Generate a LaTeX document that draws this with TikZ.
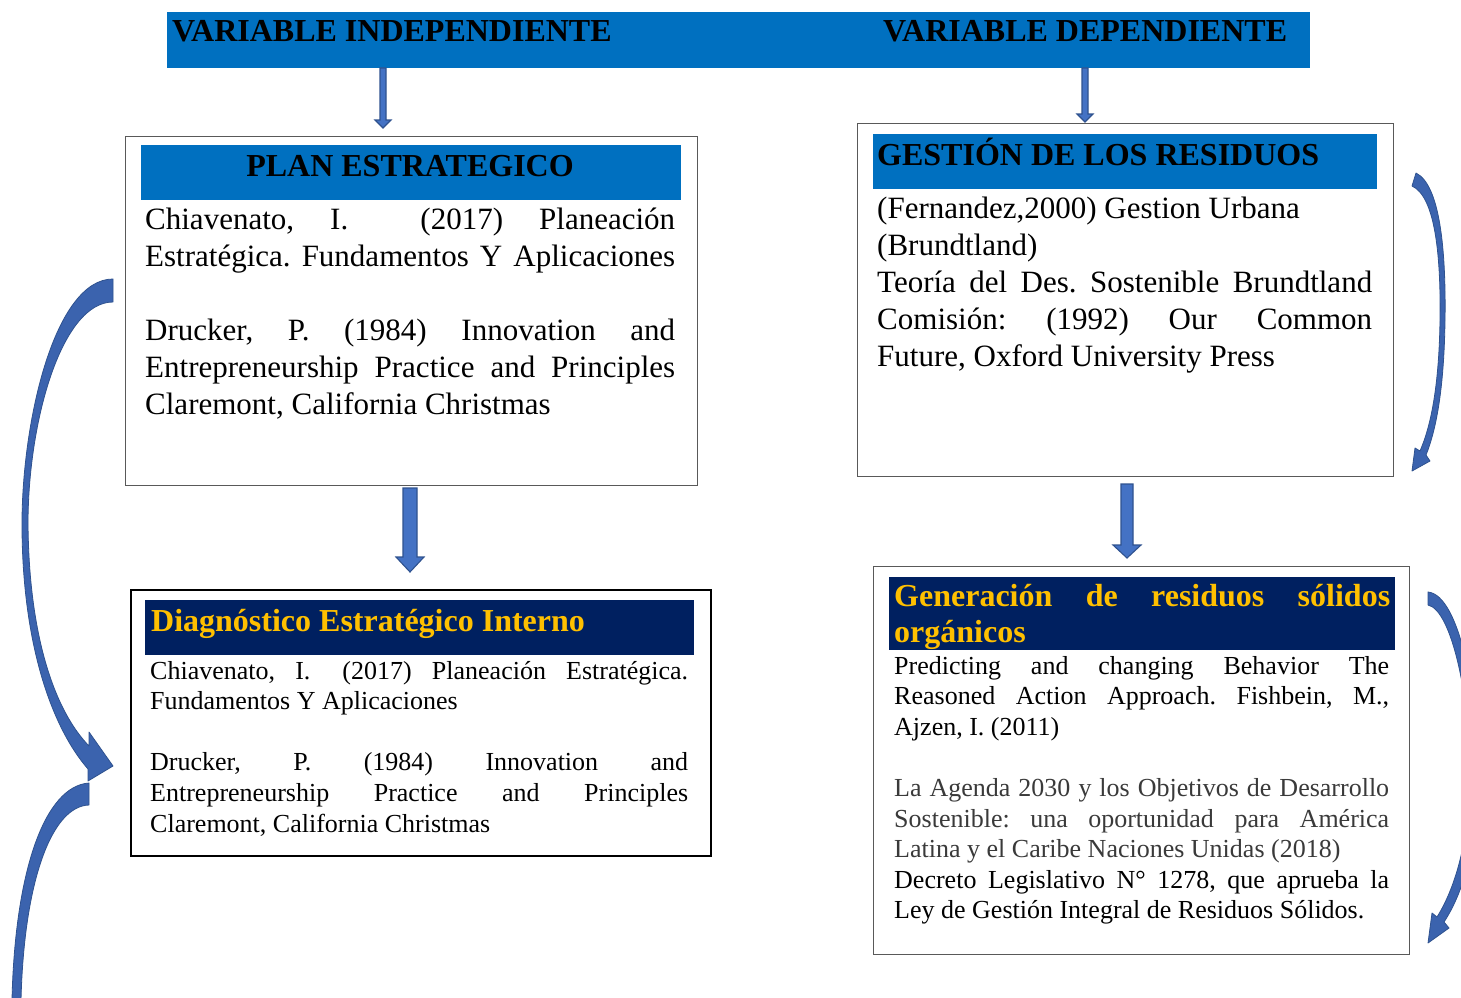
\documentclass[tikz,border=0pt]{standalone}
\usepackage{fontspec}
\setmainfont{Liberation Serif}
\usetikzlibrary{calc}

\definecolor{barblue}{HTML}{0070C0}
\definecolor{navy}{HTML}{002060}
\definecolor{gold}{HTML}{FFC000}
\definecolor{arrowfill}{HTML}{4472C4}
\definecolor{arrowline}{HTML}{2F528F}
\definecolor{curvefill}{HTML}{3B63AE}
\definecolor{softblack}{HTML}{3A3A3A}
\definecolor{framegray}{HTML}{595959}

\hbadness=10000
\hfuzz=20pt
\frenchspacing

% one justified line / one natural-width line of a reference list
\newcommand\jline[1]{\hbox to\hsize{#1}}
\newcommand\pline[1]{\hbox{#1}}
\newcommand\blankline{\hbox{}}
% stack of lines whose baseline is the first line
\newcommand\textblock[2]{\vtop{\hsize=#1pt\relax #2}}

\newcommand\bodyL{\fontsize{31}{37}\selectfont}
\newcommand\bodyS{\fontsize{26}{30.6}\selectfont}
\newcommand\headfont{\fontsize{32}{36}\selectfont\bfseries}

% vertical block arrow from #1 down to the tip #2
% #3 half shaft width, #4 half head width, #5 head length
\newcommand\blockdown[5]{%
  \filldraw[fill=arrowfill, draw=arrowline, line width=1.1pt, line join=miter]
    let \p1=(#1), \p2=(#2) in
    (\x1-#3pt,\y1) -- (\x1+#3pt,\y1) -- (\x1+#3pt,\y2+#5pt) -- (\x1+#4pt,\y2+#5pt)
    -- (\x1,\y2) -- (\x1-#4pt,\y2+#5pt) -- (\x1-#3pt,\y2+#5pt) -- cycle;}

\tikzset{
  framebox/.style={draw=#1, fill=white, anchor=north west, inner sep=0pt},
  headbar/.style={fill=#1, anchor=north west, inner sep=0pt, draw=none},
  label/.style={anchor=base west, inner sep=0pt},
  curved/.style={fill=curvefill, draw=arrowline, line width=0.8pt, line join=round},
}

\begin{document}
\begin{tikzpicture}[x=1pt, y=-1pt]
\clip (0,0) rectangle (1461,998);
\fill[white] (0,0) rectangle (1461,998);

% variable banner
\node[headbar=barblue, minimum width=1143pt, minimum height=56pt] (bar) at (167,12) {};
\node[label, font=\headfont] (vi) at (172,42) {VARIABLE INDEPENDIENTE};
\node[label, font=\headfont] (vd) at (883,42) {VARIABLE DEPENDIENTE};

% plan estrategico
\node[framebox=framegray, line width=1.2pt, minimum width=572pt, minimum height=349pt] (box1) at (125,136) {};
\node[headbar=barblue, minimum width=540pt, minimum height=55pt] (head1) at (141,145) {};
\node[anchor=base, inner sep=0pt, font=\headfont] (title1) at (410,176) {PLAN ESTRATEGICO};
\node[label, font=\bodyL] (refs1) at (145,229) {\textblock{530}{%
  \jline{Chiavenato,\hfill I.\hfill\hfill (2017)\hfill Planeación}
  \jline{Estratégica. Fundamentos Y Aplicaciones}
  \blankline
  \jline{Drucker, P. (1984) Innovation and}
  \jline{Entrepreneurship Practice and Principles}
  \pline{Claremont, California Christmas}}};

% gestion de los residuos
\node[framebox=framegray, line width=1.2pt, minimum width=536pt, minimum height=353pt] (box3) at (857,123) {};
\node[headbar=barblue, minimum width=504pt, minimum height=55pt] (head3) at (873,134) {};
\node[label, font=\headfont] (title3) at (877,165) {GESTIÓN DE LOS RESIDUOS};
\node[label, font=\bodyL] (refs3) at (877,218) {\textblock{495}{%
  \pline{(Fernandez,2000) Gestion Urbana}
  \pline{(Brundtland)}
  \jline{Teoría del Des. Sostenible Brundtland}
  \jline{Comisión:\hfill (1992)\hfill Our\hfill Common}
  \pline{Future, Oxford University Press}}};

% diagnostico estrategico interno
\node[framebox=black, line width=2pt, minimum width=580pt, minimum height=266pt] (box2) at (130,589) {};
\node[headbar=navy, minimum width=549pt, minimum height=55pt] (head2) at (145,600) {};
\node[label, font=\headfont, text=gold] (title2) at (151,631) {Diagnóstico Estratégico Interno};
\node[label, font=\bodyS] (refs2) at (150,679) {\textblock{538}{%
  \jline{Chiavenato, I.\hspace{0.45em} (2017) Planeación Estratégica.}
  \pline{Fundamentos Y Aplicaciones}
  \blankline
  \jline{Drucker,\hfill P.\hfill (1984)\hfill Innovation\hfill and}
  \jline{Entrepreneurship\hfill Practice\hfill and\hfill Principles}
  \pline{Claremont, California Christmas}}};

% generacion de residuos solidos organicos
\node[framebox=framegray, line width=1.2pt, minimum width=536pt, minimum height=388pt] (box4) at (873,566) {};
\node[headbar=navy, minimum width=506pt, minimum height=73pt] (head4) at (889,577) {};
\node[label, font=\headfont, text=gold] (title4) at (894,606) {\textblock{496}{%
  \jline{Generación\hfill de\hfill residuos\hfill sólidos}
  \pline{orgánicos}}};
\node[label, font=\bodyS] (refs4) at (894,674) {\textblock{495}{%
  \jline{Predicting and changing Behavior The}
  \jline{Reasoned Action Approach. Fishbein, M.,}
  \pline{Ajzen, I. (2011)}
  \blankline
  \color{softblack}%
  \jline{La Agenda 2030 y los Objetivos de Desarrollo}
  \jline{Sostenible: una oportunidad para América}
  \pline{Latina y el Caribe Naciones Unidas (2018)}
  \color{black}%
  \jline{Decreto Legislativo N° 1278, que aprueba la}
  \pline{Ley de Gestión Integral de Residuos Sólidos.}}};

% straight connectors
\coordinate (a1s) at (383,68);   \coordinate (a1t) at (383,128);
\coordinate (a2s) at (1085,68);  \coordinate (a2t) at (1085,122);
\coordinate (a3s) at (410,488);  \coordinate (a3t) at (410,572);
\coordinate (a4s) at (1127,484); \coordinate (a4t) at (1127,558);
\blockdown{a1s}{a1t}{3}{8}{8}
\blockdown{a2s}{a2t}{3}{8}{8}
\blockdown{a3s}{a3t}{7}{14}{15}
\blockdown{a4s}{a4t}{6}{14}{13}

% curved arrow on the left, from plan to diagnostico
\path[curved] (113,279) .. controls (55,279) and (22,420) .. (22,524)
  .. controls (22,640) and (50,725) .. (88,769)
  -- (88,781) -- (113,766) -- (89,732) -- (89,746)
  .. controls (56,712) and (29,640) .. (28,524)
  .. controls (28,420) and (62,302) .. (113,302) -- cycle;
% curved band leaving the diagnostico
\path[curved] (89,783) .. controls (45,786) and (15,870) .. (12,1000)
  -- (21,1000) .. controls (24,880) and (52,806) .. (89,805) -- cycle;

% curved arrow beside gestion de los residuos
\path[curved] (1416,173) .. controls (1440,185) and (1446,250) .. (1445,320)
  .. controls (1444,390) and (1436,430) .. (1426,455)
  -- (1430,461) -- (1412,471) -- (1415,448) -- (1420,451)
  .. controls (1430,428) and (1439,390) .. (1440,320)
  .. controls (1441,250) and (1434,196) .. (1412,186) -- cycle;

% curved arrow beside generacion de residuos
\path[curved] (1428,592) .. controls (1460,595) and (1478,700) .. (1478,770)
  .. controls (1478,840) and (1465,890) .. (1444,922)
  -- (1449,928) -- (1428,943) -- (1432,913) -- (1437,917)
  .. controls (1457,885) and (1470,835) .. (1470,770)
  .. controls (1470,700) and (1452,610) .. (1428,605) -- cycle;
\end{tikzpicture}
\end{document}
